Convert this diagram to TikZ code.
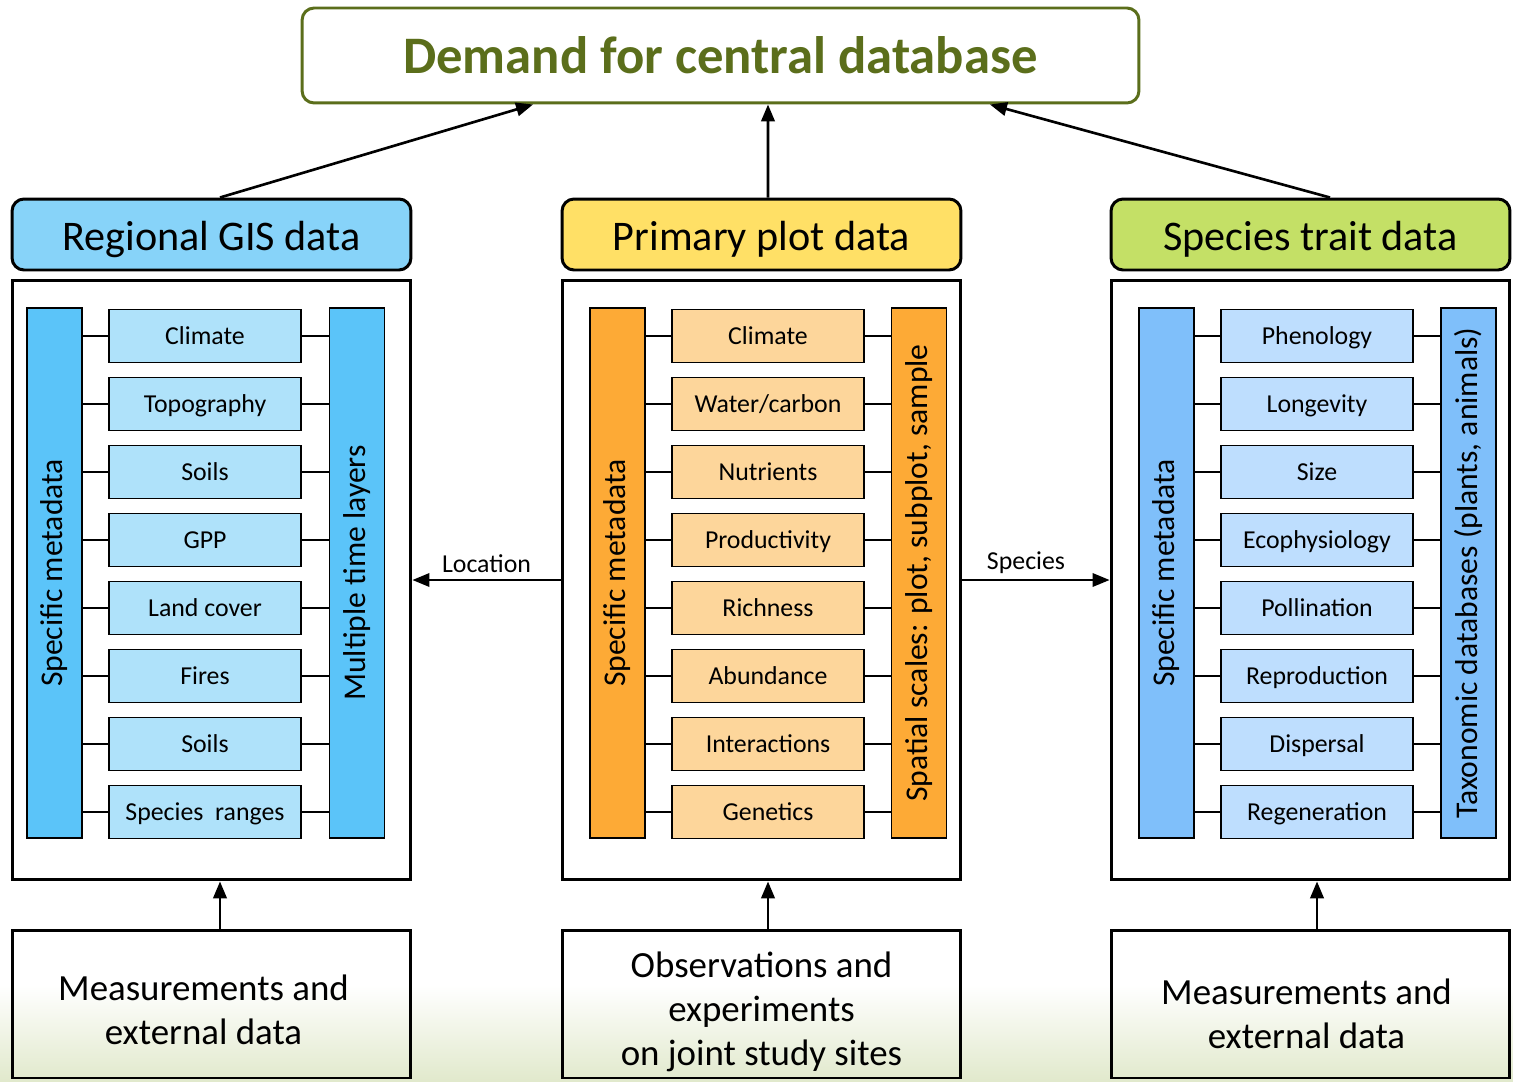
\documentclass[tikz,border=0pt]{standalone}
\usepackage{fontspec}
\setmainfont{Carlito}
\usetikzlibrary{arrows.meta}

\definecolor{dbgreen}{HTML}{5B6E1B}
\definecolor{gishead}{HTML}{87D3F9}
\definecolor{gisbar}{HTML}{5BC4F9}
\definecolor{gisitem}{HTML}{AFE2FA}
\definecolor{plothead}{HTML}{FFE066}
\definecolor{plotbar}{HTML}{FDAA36}
\definecolor{plotitem}{HTML}{FDD69B}
\definecolor{traithead}{HTML}{C4E066}
\definecolor{traitbar}{HTML}{7FBFFA}
\definecolor{traititem}{HTML}{BEDEFE}
\definecolor{groundgreen}{HTML}{E1E9CC}

\tikzset{
	head/.style={draw, line width=1.7pt, rounded corners=0.24cm, minimum width=7.98cm, minimum height=1.42cm, text height=18pt, text depth=0pt, font=\fontsize{24}{28}\selectfont},
	panel/.style={draw, line width=1.7pt, minimum width=7.98cm, minimum height=12cm},
	source/.style={draw, line width=1.7pt, minimum width=7.98cm, minimum height=2.96cm},
	srctext/.style={align=center, font=\fontsize{21}{25.2}\selectfont},
	bar/.style={draw, line width=1.1pt, rotate=90, minimum width=10.6cm, minimum height=1.1cm, inner sep=0pt, font=\fontsize{18}{21}\selectfont},
	item/.style={draw, line width=1.1pt, minimum width=3.84cm, minimum height=1.06cm, inner sep=0pt, text height=10.2pt, text depth=0pt, font=\fontsize{14.7}{17}\selectfont},
	link/.style={line width=0.8pt},
	arr/.style={line width=1.5pt, -{Triangle[length=0.34cm, width=0.27cm]}}
}

\begin{document}
\begin{tikzpicture}[x=0.02cm, y=-0.02cm]
	\useasboundingbox (0,0) rectangle (1513,1081);
	% greenish ground at the bottom
	\shade[top color=white, bottom color=groundgreen] (0,985) rectangle (1513,1081);

	\node[draw=dbgreen, line width=1.7pt, rounded corners=0.24cm, minimum width=16.74cm, minimum height=1.9cm, text=dbgreen, font=\fontsize{30}{36}\selectfont\bfseries] (demand) at (720.5,55.5) {Demand for central database};

	\node[head, fill=gishead] (gish) at (211.5,234.5) {Regional GIS data};
	\node[head, fill=plothead] (ploth) at (761.5,234.5) {Primary plot data};
	\node[head, fill=traithead] (traith) at (1310.5,234.5) {Species trait data};

	\node[panel] (gisp) at (211.5,580) {};
	\node[panel] (plotp) at (761.5,580) {};
	\node[panel] (traitp) at (1310.5,580) {};

	\node[source] (giss) at (211.5,1004) {};
	\node[source] (plots) at (761.5,1004) {};
	\node[source] (traits) at (1310.5,1004) {};
	\node[srctext] (gissrc) at ([xshift=-0.16cm, yshift=-0.12cm]giss.center) {Measurements and\\external data};
	\node[srctext] (plotsrc) at ([yshift=-0.16cm]plots.center) {Observations and\\experiments\\on joint study sites};
	\node[srctext] (traitsrc) at ([xshift=-0.08cm, yshift=-0.2cm]traits.center) {Measurements and\\external data};

	% regional GIS data
	\node[bar, fill=gisbar] (gmeta) at (54.5,573) {Specific metadata};
	\node[bar, fill=gisbar] (gtime) at (357,573) {Multiple time layers};
	\node[item, fill=gisitem] (gclim) at (205,336) {Climate};
	\node[item, fill=gisitem] (gtopo) at (205,404) {Topography};
	\node[item, fill=gisitem] (gsoil) at (205,472) {Soils};
	\node[item, fill=gisitem] (ggpp) at (205,540) {GPP};
	\node[item, fill=gisitem] (gland) at (205,608) {Land cover};
	\node[item, fill=gisitem] (gfire) at (205,676) {Fires};
	\node[item, fill=gisitem] (gsoiltwo) at (205,744) {Soils};
	\node[item, fill=gisitem] (grange) at (205,812) {Species\ \ ranges};
	\draw[link] (gmeta.south |- gclim) -- (gclim.west) (gclim.east) -- (gtime.north |- gclim);
	\draw[link] (gmeta.south |- gtopo) -- (gtopo.west) (gtopo.east) -- (gtime.north |- gtopo);
	\draw[link] (gmeta.south |- gsoil) -- (gsoil.west) (gsoil.east) -- (gtime.north |- gsoil);
	\draw[link] (gmeta.south |- ggpp) -- (ggpp.west) (ggpp.east) -- (gtime.north |- ggpp);
	\draw[link] (gmeta.south |- gland) -- (gland.west) (gland.east) -- (gtime.north |- gland);
	\draw[link] (gmeta.south |- gfire) -- (gfire.west) (gfire.east) -- (gtime.north |- gfire);
	\draw[link] (gmeta.south |- gsoiltwo) -- (gsoiltwo.west) (gsoiltwo.east) -- (gtime.north |- gsoiltwo);
	\draw[link] (gmeta.south |- grange) -- (grange.west) (grange.east) -- (gtime.north |- grange);

	% primary plot data
	\node[bar, fill=plotbar] (pmeta) at (617.5,573) {Specific metadata};
	\node[bar, fill=plotbar] (pscale) at (919,573) {Spatial scales: plot, subplot, sample};
	\node[item, fill=plotitem] (pclim) at (768,336) {Climate};
	\node[item, fill=plotitem] (pwater) at (768,404) {Water/carbon};
	\node[item, fill=plotitem] (pnutr) at (768,472) {Nutrients};
	\node[item, fill=plotitem] (pprod) at (768,540) {Productivity};
	\node[item, fill=plotitem] (prich) at (768,608) {Richness};
	\node[item, fill=plotitem] (pabund) at (768,676) {Abundance};
	\node[item, fill=plotitem] (pinter) at (768,744) {Interactions};
	\node[item, fill=plotitem] (pgen) at (768,812) {Genetics};
	\draw[link] (pmeta.south |- pclim) -- (pclim.west) (pclim.east) -- (pscale.north |- pclim);
	\draw[link] (pmeta.south |- pwater) -- (pwater.west) (pwater.east) -- (pscale.north |- pwater);
	\draw[link] (pmeta.south |- pnutr) -- (pnutr.west) (pnutr.east) -- (pscale.north |- pnutr);
	\draw[link] (pmeta.south |- pprod) -- (pprod.west) (pprod.east) -- (pscale.north |- pprod);
	\draw[link] (pmeta.south |- prich) -- (prich.west) (prich.east) -- (pscale.north |- prich);
	\draw[link] (pmeta.south |- pabund) -- (pabund.west) (pabund.east) -- (pscale.north |- pabund);
	\draw[link] (pmeta.south |- pinter) -- (pinter.west) (pinter.east) -- (pscale.north |- pinter);
	\draw[link] (pmeta.south |- pgen) -- (pgen.west) (pgen.east) -- (pscale.north |- pgen);

	% species trait data
	\node[bar, fill=traitbar] (tmeta) at (1166.5,573) {Specific metadata};
	\node[bar, fill=traitbar] (ttaxa) at (1468.5,573) {Taxonomic databases (plants, animals)};
	\node[item, fill=traititem] (tphen) at (1317,336) {Phenology};
	\node[item, fill=traititem] (tlong) at (1317,404) {Longevity};
	\node[item, fill=traititem] (tsize) at (1317,472) {Size};
	\node[item, fill=traititem] (teco) at (1317,540) {Ecophysiology};
	\node[item, fill=traititem] (tpoll) at (1317,608) {Pollination};
	\node[item, fill=traititem] (trepr) at (1317,676) {Reproduction};
	\node[item, fill=traititem] (tdisp) at (1317,744) {Dispersal};
	\node[item, fill=traititem] (tregen) at (1317,812) {Regeneration};
	\draw[link] (tmeta.south |- tphen) -- (tphen.west) (tphen.east) -- (ttaxa.north |- tphen);
	\draw[link] (tmeta.south |- tlong) -- (tlong.west) (tlong.east) -- (ttaxa.north |- tlong);
	\draw[link] (tmeta.south |- tsize) -- (tsize.west) (tsize.east) -- (ttaxa.north |- tsize);
	\draw[link] (tmeta.south |- teco) -- (teco.west) (teco.east) -- (ttaxa.north |- teco);
	\draw[link] (tmeta.south |- tpoll) -- (tpoll.west) (tpoll.east) -- (ttaxa.north |- tpoll);
	\draw[link] (tmeta.south |- trepr) -- (trepr.west) (trepr.east) -- (ttaxa.north |- trepr);
	\draw[link] (tmeta.south |- tdisp) -- (tdisp.west) (tdisp.east) -- (ttaxa.north |- tdisp);
	\draw[link] (tmeta.south |- tregen) -- (tregen.west) (tregen.east) -- (ttaxa.north |- tregen);

	\draw[arr] ([xshift=0.17cm]gish.north) to ([xshift=-3.75cm]demand.south);
	\draw[arr] ([xshift=0.13cm]ploth.north) to ([xshift=0.95cm]demand.south);
	\draw[arr] ([xshift=0.39cm]traith.north) to ([xshift=5.39cm]demand.south);
	\draw[arr] ([xshift=0.17cm]giss.north) to ([xshift=0.17cm]gisp.south);
	\draw[arr] ([xshift=0.13cm]plots.north) to ([xshift=0.13cm]plotp.south);
	\draw[arr] ([xshift=0.13cm]traits.north) to ([xshift=0.13cm]traitp.south);
	\draw[arr, line width=1.1pt] (plotp.west) to node[above, font=\fontsize{14.7}{17}\selectfont]{Location} (gisp.east);
	\draw[arr, line width=1.1pt] (plotp.east) to node[above, xshift=-0.2cm, font=\fontsize{14.7}{17}\selectfont]{Species} (traitp.west);
\end{tikzpicture}
\end{document}
